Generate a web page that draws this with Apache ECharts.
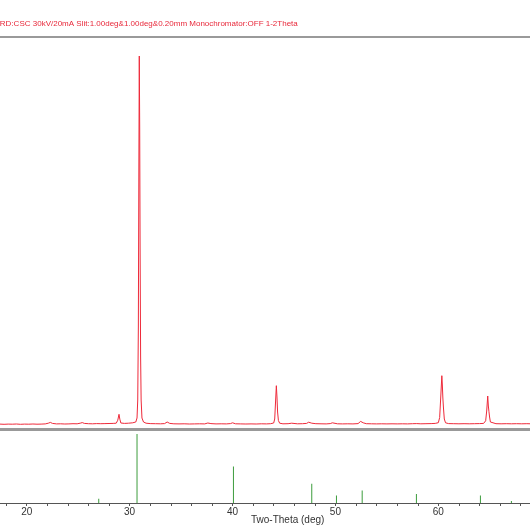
<!DOCTYPE html>
<html><head><meta charset="utf-8">
<script src="https://cdn.jsdelivr.net/npm/echarts@6/dist/echarts.min.js"></script>
<style>html,body{margin:0;padding:0;background:#fff}#c{width:530px;height:530px}</style>
</head><body><div id="c"></div>
<script>
// Measured XRD pattern (2θ in degrees, intensity in counts)
const twoTheta = [17.0,17.4,17.8,18.2,18.6,19.0,19.4,19.8,20.2,20.6,21.0,21.4,21.8,22.1,22.3,22.5,22.9,23.3,23.7,24.1,24.5,24.9,25.2,25.4,25.6,26.0,26.4,26.8,27.2,27.6,28.0,28.4,28.7,28.85,28.97,29.05,29.15,29.5,29.9,30.3,30.6,30.72,30.79,30.85,30.9,30.94,30.98,31.02,31.07,31.12,31.2,31.35,31.6,32.0,32.5,33.0,33.4,33.65,33.75,33.9,34.3,34.8,35.3,35.8,36.3,36.8,37.3,37.6,37.75,37.9,38.4,38.9,39.4,39.8,40.0,40.1,40.3,40.8,41.3,41.8,42.3,42.8,43.3,43.7,44.0,44.1,44.18,44.26,44.32,44.38,44.46,44.58,44.9,45.4,45.75,45.9,46.3,46.8,47.2,47.4,47.55,47.7,48.1,48.6,49.1,49.5,49.7,49.85,50.2,50.7,51.2,51.7,52.2,52.45,52.55,52.7,53.0,53.5,54.0,54.5,55.0,55.5,56.0,56.5,57.0,57.5,57.9,58.3,58.8,59.3,59.7,60.0,60.13,60.24,60.34,60.39,60.44,60.5,60.58,60.7,61.0,61.5,62.0,62.5,63.0,63.5,64.0,64.4,64.6,64.7,64.8,64.86,64.92,64.98,65.06,65.2,65.6,66.1,66.6,67.1,67.6,68.1,68.6,69.0,69.5,70.0];
const counts = [28,29,27,29,28,30,27,29,28,30,28,29,31,38,46,36,31,32,30,31,33,32,38,44,36,33,32,34,33,34,35,36,38,68,127,78,40,36,38,42,50,90,270,1000,2600,3710,3000,1800,700,270,90,50,38,34,33,32,34,50,56,36,32,31,32,30,31,32,31,40,43,34,31,32,31,34,42,40,32,31,30,31,30,32,31,33,40,80,250,413,300,150,65,38,32,33,38,36,32,33,36,48,53,38,33,32,31,34,42,38,32,31,32,31,34,56,65,42,33,32,31,32,31,32,31,32,31,33,34,32,33,34,36,43,95,310,513,420,290,190,80,42,34,33,32,33,32,33,34,36,62,160,310,210,153,100,50,37,33,32,33,32,33,32,33,32,33,32];

// Reference pattern sticks (2θ, relative intensity %)
const refTheta = [27.0,30.72,40.09,47.7,50.1,52.6,57.87,64.09,67.1];
const refInt = [6,100,53,28,11,18,13,11,3];

const titleText = 'XRD:CSC 30kV/20mA Slit:1.00deg&1.00deg&0.20mm Monochromator:OFF 1-2Theta';
const xAxisName = 'Two-Theta (deg)';

const chart = echarts.init(document.getElementById('c'), null, {renderer:'canvas'});
const spec = twoTheta.map((t,i)=>[t,counts[i]]);
const sticks = refTheta.map((t,i)=>[t,refInt[i]]);
const gl = -14.46, gw = 555.7;
chart.setOption({
  animation:false,
  backgroundColor:'#fff',
  grid:[
    {left:gl, width:gw, top:40, height:387, containLabel:false, outerBoundsMode:'none'},
    {left:gl, width:gw, top:434, height:69, containLabel:false, outerBoundsMode:'none'}
  ],
  xAxis:[
    {gridIndex:0, type:'value', min:16, max:70, show:false},
    {gridIndex:1, type:'value', min:16, max:70, interval:2,
     axisLine:{lineStyle:{color:'#555', width:1}},
     axisTick:{show:true, length:3, lineStyle:{color:'#555'}},
     splitLine:{show:false},
     axisLabel:{color:'#333', fontSize:10, fontFamily:'Liberation Sans, Arial', margin:4,
       formatter:v=> (Math.round(v)%10===0 ? String(Math.round(v)) : '')}
    }
  ],
  yAxis:[
    {gridIndex:0, type:'value', min:0, max:3870, show:false},
    {gridIndex:1, type:'value', min:0, max:100, show:false}
  ],
  series:[
    {type:'line', xAxisIndex:0, yAxisIndex:0, data:spec, symbol:'none', smooth:false,
     lineStyle:{color:'#ee2a3a', width:1}},
    {type:'bar', xAxisIndex:1, yAxisIndex:1, data:sticks, barWidth:1,
     itemStyle:{color:'#3c9c3c'}}
  ],
  graphic:[
    {type:'text', left:-5.5, top:20, style:{text:titleText, fill:'#e8283a', font:'8px "Liberation Sans", Arial'}},
    {type:'rect', shape:{x:0, y:36, width:530, height:2}, style:{fill:'#9a9a9a'}},
    {type:'rect', shape:{x:0, y:428, width:530, height:3}, style:{fill:'#999'}},
    {type:'text', left:251, top:515, style:{text:xAxisName, fill:'#333', font:'10px "Liberation Sans", Arial'}}
  ]
});
</script>
</body></html>
